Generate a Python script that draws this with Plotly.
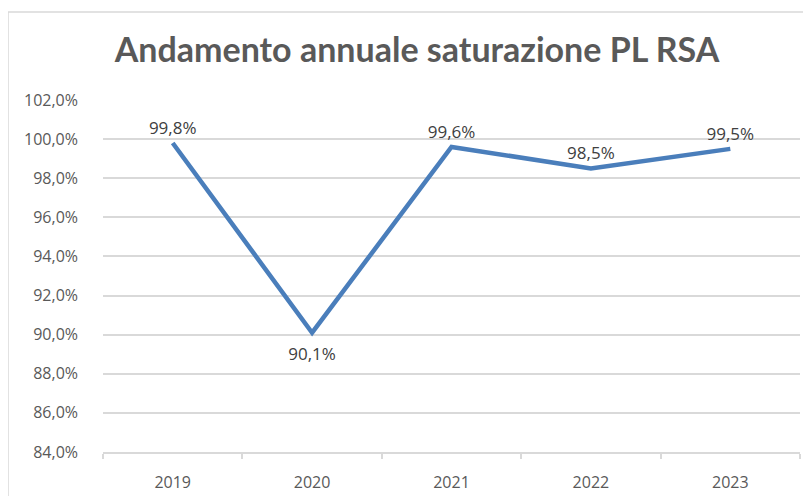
import plotly.graph_objects as go

years = ["2019", "2020", "2021", "2022", "2023"]
saturation = [0.998, 0.901, 0.996, 0.985, 0.995]
label_positions = ["top center", "bottom center", "top center", "top center", "top center"]
y_ticks = [0.84, 0.86, 0.88, 0.90, 0.92, 0.94, 0.96, 0.98, 1.00, 1.02]

# page body adds an 8px offset; work in screen coordinates and shift
OFF = 8
W, H = 811 - OFF, 496 - OFF
L, R, T, B = 103 - OFF, 11, 100 - OFF, 44
pw, ph = W - L - R, H - T - B

xs = list(range(len(years)))
label_gap = [6 if p.startswith("top") else 22 for p in label_positions]

fig = go.Figure()
fig.add_trace(go.Scatter(
    x=xs, y=saturation, mode="lines+markers+text",
    line=dict(color="#4A7EBB", width=4.5),
    marker=dict(size=label_gap, color="rgba(0,0,0,0)", line=dict(width=0, color="rgba(0,0,0,0)")),
    texttemplate="%{y:.1%}", textposition=label_positions,
    textfont=dict(family="Open Sans, Liberation Sans, sans-serif", size=17, color="#404040"),
    hoverinfo="skip", cliponaxis=False,
))

def px(x):
    return (x - OFF - L) / pw

def py(y):
    return (H - B - (y - OFF)) / ph

grid = "#D9D9D9"
tickfont = dict(family="Open Sans, Liberation Sans, sans-serif", size=16, color="#595959")
fig.update_layout(
    width=W, height=H,
    margin=dict(l=L, r=R, t=T, b=B, autoexpand=False),
    paper_bgcolor="white", plot_bgcolor="white",
    separators=",.",
    showlegend=False,
    title=dict(text="<b>Andamento annuale saturazione PL RSA</b>",
               x=(417 - OFF) / W, xanchor="center", y=1 - (50 - OFF) / H, yanchor="middle",
               font=dict(family="Lato, Open Sans, sans-serif", size=34, color="#595959")),
    xaxis=dict(range=[-0.5, 4.5], tickvals=xs, ticktext=years, ticks="", automargin=False,
               showgrid=False, zeroline=False, showline=True, linecolor=grid, linewidth=1.5,
               tickfont=tickfont, ticklabelstandoff=15,
               minor=dict(tick0=-0.5, dtick=1, ticks="outside", ticklen=5, tickcolor=grid,
                          tickwidth=1.5, showgrid=False)),
    yaxis=dict(range=[0.84, 1.02], tickvals=y_ticks, tickformat=".1%", automargin=False,
               showgrid=True, gridcolor=grid, gridwidth=1.5, zeroline=False, showline=False,
               ticks="", ticklabelstandoff=24, tickfont=tickfont),
    shapes=[
        dict(type="line", xref="paper", yref="paper", x0=px(8), x1=px(811 + 5), y0=py(12), y1=py(12),
             line=dict(color=grid, width=1.5)),
        dict(type="line", xref="paper", yref="paper", x0=px(8), x1=px(8), y0=py(12), y1=py(496 + 5),
             line=dict(color=grid, width=1.5)),
    ],
)

fig.write_html("out.html")
